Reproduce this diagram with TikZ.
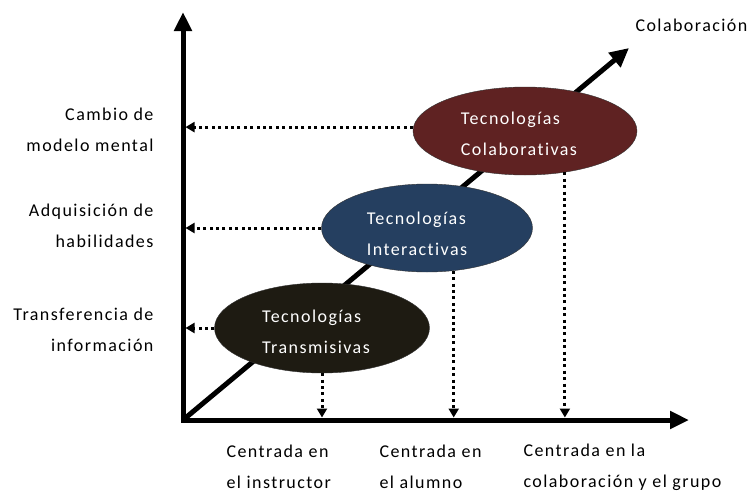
\documentclass[tikz,border=0pt]{standalone}
\usepackage{fontspec}
\setmainfont{Carlito}[LetterSpace=8, Ligatures=NoCommon]
\usetikzlibrary{arrows.meta, positioning, shapes.geometric, calc}

\definecolor{colred}{RGB}{95,34,34}
\definecolor{colblue}{RGB}{37,63,96}
\definecolor{colblack}{RGB}{30,27,18}

\begin{document}
\begin{tikzpicture}[x=1pt, y=-1pt,
    axis/.style={line width=5pt, line join=miter},
    dots/.style={line width=3pt, dash pattern=on 3pt off 3.4pt, -{Triangle[length=9pt,width=10pt]}, shorten >=2.5pt},
    tech/.style={ellipse, draw=black!80, fill=#1, inner sep=0pt},
    techtxt/.style={text=white, align=left, inner sep=0pt, font=\fontsize{18}{31}\selectfont},
    lbl/.style={font=\fontsize{18}{31}\selectfont}]
    \useasboundingbox (0,0) rectangle (750,493);

    % Axes
    \coordinate (o) at (183,420);
    \coordinate (ytip) at (183,12);
    \coordinate (xtip) at (689,420);
    \coordinate (dtip) at (629,48);
    \draw[axis, {Triangle[length=19pt,width=17pt]}-{Triangle[length=19pt,width=17pt]}] (ytip) -- (o) -- (xtip);
    \draw[line width=5pt, -{Triangle[length=19pt,width=18pt]}] (o) -- (dtip);
    \node[lbl, anchor=west] (colabaxis) at (632,25) {Colaboración};

    % Technologies
    \node[tech=colred, minimum width=224pt, minimum height=88pt] (colab) at (525,131) {};
    \node[techtxt] (colabtxt) at ($(colab)+(-6,3)$) {Tecnologías\\Colaborativas};
    \node[tech=colblue, minimum width=211pt, minimum height=88pt] (inter) at (427,228) {};
    \node[techtxt] (intertxt) at ($(inter)+(-10,6)$) {Tecnologías\\Interactivas};
    \node[tech=colblack, minimum width=215pt, minimum height=90pt] (trans) at (322,328) {};
    \node[techtxt] (transtxt) at ($(trans)+(-6,4)$) {Tecnologías\\Transmisivas};

    % Left labels
    \foreach \y/\name/\txt in {130/cambio/{Cambio de\\modelo mental},
                               226/adqui/{Adquisición de\\habilidades},
                               330/transf/{Transferencia de\\información}} {
        \node[lbl, align=right, anchor=east] (\name) at (157,\y) {\txt};
    }

    % Bottom labels
    \foreach \x/\name/\txt in {223/instr/{Centrada en\\el instructor},
                               376/alumno/{Centrada en\\el alumno},
                               520/grupo/{Centrada en la\\colaboración y el grupo}} {
        \node[lbl, align=left, anchor=west] (\name) at (\x,467) {\txt};
    }

    % Dotted projections
    \draw[dots] (colab.178) -- (colab.178 -| o);
    \draw[dots] (inter.west) -- (inter.west -| o);
    \draw[dots] (trans.west) -- (trans.west -| o);
    \draw[dots] (trans.south) -- (trans.south |- o);
    \draw[dots] (inter.-58) -- (inter.-58 |- o);
    \draw[dots] (colab.-46) -- (colab.-46 |- o);
\end{tikzpicture}
\end{document}
